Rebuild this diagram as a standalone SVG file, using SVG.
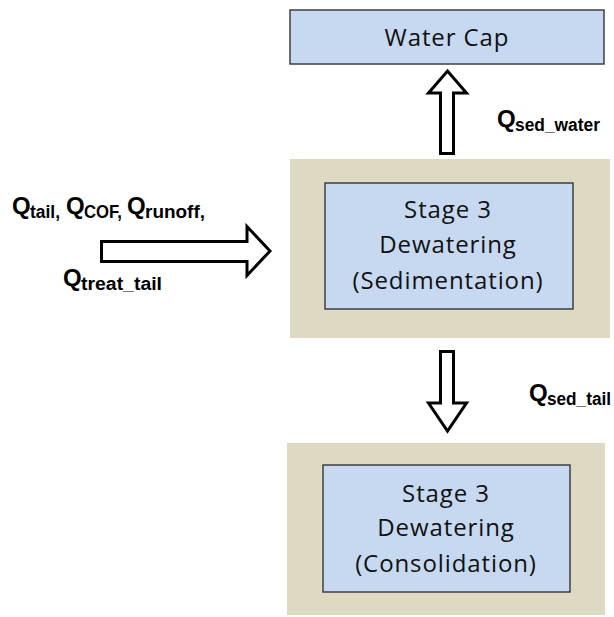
<svg xmlns="http://www.w3.org/2000/svg" width="614" height="617" viewBox="0 0 614 617">
  <style>
    .stage { fill: #DDD9C3; }
    .box { fill: #C6D9F1; stroke: #3F3F3F; stroke-width: 1.5; }
    .label { font-family: "Open Sans", "Liberation Sans", sans-serif; font-size: 24px; letter-spacing: 0.9px; fill: #111111; text-anchor: middle; }
    .flow { fill: #FFFFFF; stroke: #000000; stroke-width: 3; stroke-linejoin: miter; }
    .q { font-family: "Liberation Sans", Arial, sans-serif; font-weight: bold; fill: #000000; }
    .big { font-size: 24px; }
    .sub { font-size: 18px; }
  </style>
  <rect width="614" height="617" fill="#FFFFFF"/>

  <!-- Water cap -->
  <g id="water-cap">
    <rect class="box" x="290" y="10" width="314" height="54"/>
    <text class="label" x="447" y="46">Water Cap</text>
  </g>

  <!-- Sedimentation stage -->
  <g id="sedimentation">
    <rect class="stage" x="290" y="159" width="320" height="179"/>
    <rect class="box" x="325" y="183" width="248" height="126"/>
    <text class="label" x="448" y="218">Stage 3</text>
    <text class="label" x="448" y="253">Dewatering</text>
    <text class="label" x="448" y="289">(Sedimentation)</text>
  </g>

  <!-- Consolidation stage -->
  <g id="consolidation">
    <rect class="stage" x="287" y="443" width="318" height="172"/>
    <rect class="box" x="323" y="465" width="247" height="127"/>
    <text class="label" x="446" y="502">Stage 3</text>
    <text class="label" x="446" y="536">Dewatering</text>
    <text class="label" x="446" y="572">(Consolidation)</text>
  </g>

  <!-- Flow arrows -->
  <g id="connectors">
    <polygon class="flow" points="101.5,241.5 247,241.5 247,226.5 270,251 247,275.5 247,261.5 101.5,261.5"/>
    <polygon class="flow" points="440.5,153.5 440.5,93 428.5,93 447.5,71 466.5,93 453.5,93 453.5,153.5"/>
    <polygon class="flow" points="440.5,351.5 453.5,351.5 453.5,403 466.5,403 447.5,431 428.5,403 440.5,403"/>
  </g>

  <!-- Flow labels -->
  <g id="inflow-label">
    <text class="q"><tspan class="big" x="12" y="214">Q</tspan><tspan class="sub" x="30" y="218" textLength="30" lengthAdjust="spacingAndGlyphs">tail,</tspan><tspan class="big" x="66" y="214">Q</tspan><tspan class="sub" x="84" y="218" textLength="38" lengthAdjust="spacingAndGlyphs">COF,</tspan><tspan class="big" x="127" y="214">Q</tspan><tspan class="sub" x="145" y="218" textLength="60" lengthAdjust="spacingAndGlyphs">runoff,</tspan></text>
    <text class="q"><tspan class="big" x="63" y="286">Q</tspan><tspan class="sub" x="81" y="290" textLength="81" lengthAdjust="spacingAndGlyphs">treat_tail</tspan></text>
  </g>
  <g id="water-label">
    <text class="q"><tspan class="big" x="497" y="127">Q</tspan><tspan class="sub" x="515" y="131" textLength="85" lengthAdjust="spacingAndGlyphs">sed_water</tspan></text>
  </g>
  <g id="tail-label">
    <text class="q"><tspan class="big" x="529" y="401">Q</tspan><tspan class="sub" x="547" y="405" textLength="64" lengthAdjust="spacingAndGlyphs">sed_tail</tspan></text>
  </g>
</svg>
